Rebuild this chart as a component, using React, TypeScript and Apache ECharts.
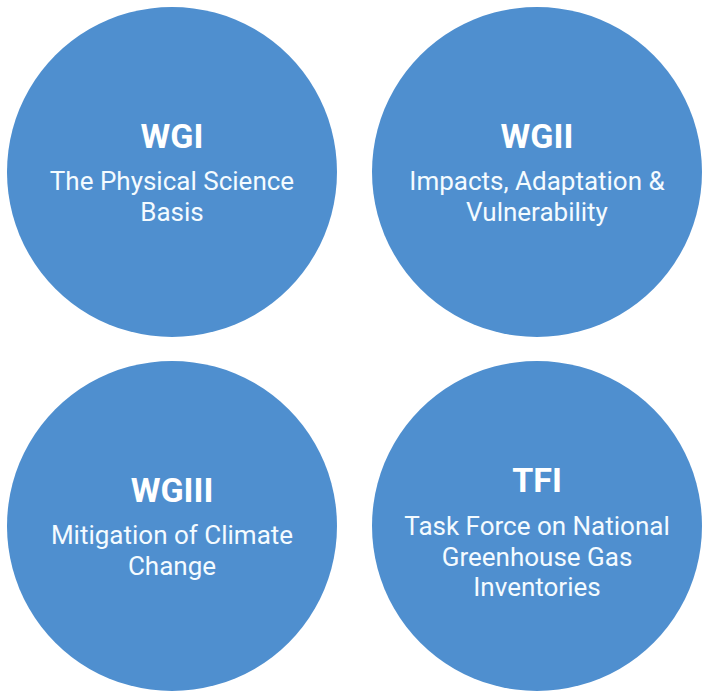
import React, { useEffect, useRef } from "react";
import * as echarts from "echarts";

const titles = ["WGI", "WGII", "WGIII", "TFI"];
const subtitles = [
  ["The Physical Science", "Basis"],
  ["Impacts, Adaptation &", "Vulnerability"],
  ["Mitigation of Climate", "Change"],
  ["Task Force on National", "Greenhouse Gas", "Inventories"],
];
const colX = [0, 1, 0, 1];
const rowY = [1, 1, 0, 0];

export default function App() {
  const ref = useRef<HTMLDivElement>(null);
  useEffect(() => {
    if (!ref.current) return;
    const chart = echarts.init(ref.current, null, { renderer: "svg" });
    const data = titles.map((t, i) => ({
      value: [colX[i], rowY[i]],
      name: t,
      label: {
        formatter: `{t|${t}}\n` + subtitles[i].map((s) => `{s|${s}}`).join("\n"),
        offset: subtitles[i].length > 2 ? [0, 0] : [0, -6],
      },
    }));
    chart.setOption({
      animation: false,
      backgroundColor: "#ffffff",
      grid: { left: 172, right: 167, top: 172, bottom: 167 },
      xAxis: { type: "value", min: 0, max: 1, show: false },
      yAxis: { type: "value", min: 0, max: 1, show: false },
      series: [
        {
          type: "scatter",
          symbol: "circle",
          symbolSize: 330,
          data,
          itemStyle: { color: "#4f8fcf", opacity: 1 },
          label: {
            show: true,
            position: "inside",
            align: "center",
            color: "#ffffff",
            rich: {
              t: {
                fontFamily: "Roboto",
                fontWeight: "bold",
                fontSize: 34,
                lineHeight: 61,
                color: "#ffffff",
                align: "center",
              },
              s: {
                fontFamily: "Roboto",
                fontSize: 26,
                lineHeight: 30.5,
                color: "#f4fbff",
                align: "center",
              },
            },
          },
          emphasis: { disabled: true },
        },
      ],
    });
    return () => chart.dispose();
  }, []);
  return (
    <div
      ref={ref}
      style={{ position: "fixed", left: 0, top: 0, width: 704, height: 693 }}
    />
  );
}
